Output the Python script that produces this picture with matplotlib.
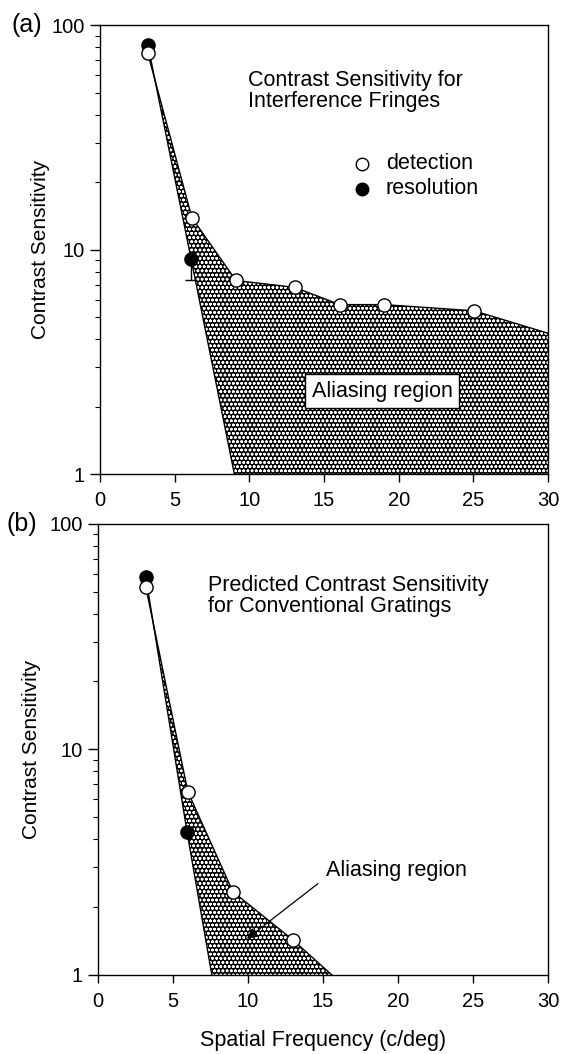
import matplotlib
matplotlib.use("Agg")
import matplotlib.pyplot as plt

plt.rcParams['font.family'] = ['Liberation Sans', 'DejaVu Sans']
plt.rcParams['hatch.linewidth'] = 0.75

# (a) interference fringes
a_det_x = [3.2, 6.15, 9.1, 13.05, 16.05, 19.0, 25.05]
a_det_y = [75, 13.9, 7.3, 6.8, 5.7, 5.7, 5.35]
a_res_x = [3.2, 6.1]
a_res_y = [82, 9.1]
a_res_err_lo = 7.3           # lower end of error bar on 2nd resolution point
a_upper_end = (30, 4.25)     # detection boundary carried to edge of plot
a_lower_end = (9.0, 1.0)     # resolution boundary reaching bottom

# (b) conventional gratings (predicted)
b_det_x = [3.2, 6.0, 9.0, 13.0]
b_det_y = [52.5, 6.5, 2.34, 1.43]
b_res_x = [3.2, 5.95]
b_res_y = [58, 4.3]
b_upper_end = (15.6, 1.0)
b_lower_end = (7.6, 1.0)

x_ticks = [0, 5, 10, 15, 20, 25, 30]
y_ticks = [1, 10, 100]


def shade(ax, det_x, det_y, res_x, res_y, upper_end, lower_end):
    px = list(det_x) + [upper_end[0]]
    py = list(det_y) + [upper_end[1]]
    if upper_end[1] > 1:
        px.append(upper_end[0])
        py.append(1)
    px += [lower_end[0]] + res_x[::-1]
    py += [lower_end[1]] + res_y[::-1]
    ax.fill(px, py, facecolor='black', edgecolor='white', hatch='oooo',
            linewidth=0, zorder=1)
    ax.plot(list(det_x) + [upper_end[0]], list(det_y) + [upper_end[1]],
            color='black', lw=1.0, zorder=2)
    ax.plot(list(res_x) + [lower_end[0]], list(res_y) + [lower_end[1]],
            color='black', lw=1.0, zorder=2)
    ax.plot(det_x, det_y, 'o', ms=9.5, mfc='white', mec='black', mew=1.0,
            zorder=4)
    ax.plot(res_x, res_y, 'o', ms=9.5, mfc='black', mec='black', zorder=3)


def style(ax, labelpad):
    ax.set_yscale('log')
    ax.set_xlim(0, 30)
    ax.set_ylim(1, 100)
    ax.set_xticks(x_ticks)
    ax.set_xticklabels([str(t) for t in x_ticks], fontsize=14.5)
    ax.set_yticks(y_ticks)
    ax.set_yticklabels([str(t) for t in y_ticks], fontsize=14.5)
    ax.tick_params(axis='x', which='major', direction='out', length=6,
                   width=1, pad=6)
    ax.tick_params(axis='y', which='major', direction='out', length=7,
                   width=1, pad=4)
    ax.tick_params(axis='y', which='minor', direction='out', length=3.5,
                   width=0.8)
    ax.tick_params(axis='x', which='minor', length=0)
    ax.set_ylabel('Contrast Sensitivity', fontsize=15, labelpad=labelpad)
    for s in ax.spines.values():
        s.set_linewidth(1.0)


fig = plt.figure(figsize=(5.62, 10.54), dpi=100)
ax1 = fig.add_axes([0.178, 0.550, 0.797, 0.426])
ax2 = fig.add_axes([0.174, 0.075, 0.801, 0.428])

shade(ax1, a_det_x, a_det_y, a_res_x, a_res_y, a_upper_end, a_lower_end)
ax1.errorbar([a_res_x[1]], [a_res_y[1]],
             yerr=[[a_res_y[1] - a_res_err_lo], [0]], fmt='none',
             ecolor='black', elinewidth=1, capsize=4, zorder=2)
style(ax1, 1)
ax1.text(9.9, 51, 'Contrast Sensitivity for\nInterference Fringes',
         fontsize=15.5, va='center', ha='left', linespacing=1.0)
ax1.plot([17.55], [24.2], 'o', ms=9, mfc='white', mec='black')
ax1.plot([17.55], [18.7], 'o', ms=9, mfc='black', mec='black')
ax1.text(19.15, 24.2, 'detection', fontsize=15.5, va='center')
ax1.text(19.15, 18.7, 'resolution', fontsize=15.5, va='center')
ax1.text(18.9, 2.34, 'Aliasing region', fontsize=15.5, ha='center',
         va='center', zorder=5,
         bbox=dict(boxstyle='square,pad=0.3', fc='white', ec='black', lw=1))
fig.text(0.021, 0.976, '(a)', fontsize=18, va='center')

shade(ax2, b_det_x, b_det_y, b_res_x, b_res_y, b_upper_end, b_lower_end)
style(ax2, 6)
ax2.text(7.33, 48, 'Predicted Contrast Sensitivity\nfor Conventional Gratings',
         fontsize=15.5, va='center', ha='left', linespacing=1.0)
ax2.text(15.2, 2.9, 'Aliasing region', fontsize=15.5, ha='left', va='center')
ax2.annotate('', xy=(9.93, 1.445), xytext=(14.67, 2.54),
             arrowprops=dict(arrowstyle='-|>', color='black', lw=0.9,
                             shrinkA=0, shrinkB=0, mutation_scale=16))
ax2.set_xlabel('Spatial Frequency (c/deg)', fontsize=15.5, labelpad=14)
fig.text(0.012, 0.503, '(b)', fontsize=18, va='center')

fig.savefig('out.png', dpi=100)
